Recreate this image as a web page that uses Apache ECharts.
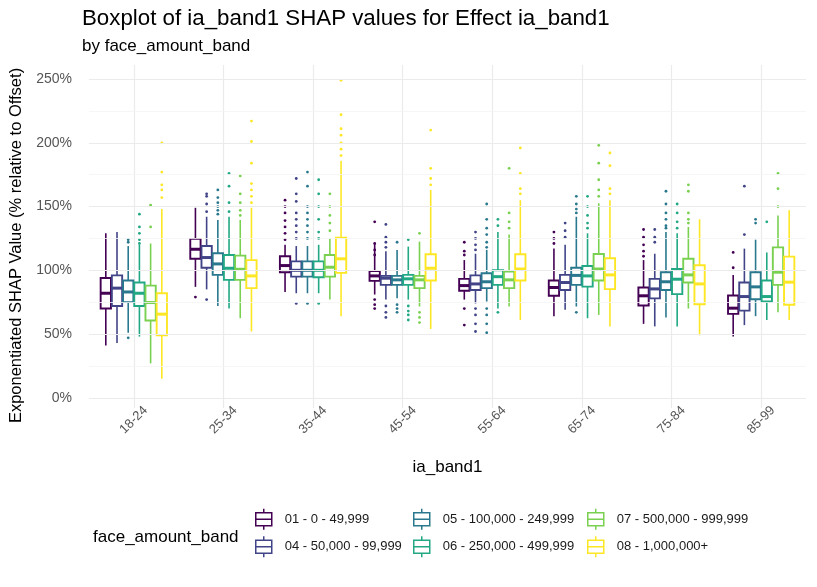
<!DOCTYPE html>
<html>
<head>
<meta charset="utf-8">
<script src="https://cdn.jsdelivr.net/npm/echarts@6/dist/echarts.min.js"></script>
<style>
html, body { margin: 0; background: #fff; }
#chart { width: 817px; height: 587px; }
</style>
</head>
<body>
<div id="chart"></div>
<script>
// age bands on the x axis
var categories = ['18-24', '25-34', '35-44', '45-54', '55-64', '65-74', '75-84', '85-99'];
var bandNames = ['01 - 0 - 49,999', '04 - 50,000 - 99,999', '05 - 100,000 - 249,999',
  '06 - 250,000 - 499,999', '07 - 500,000 - 999,999', '08 - 1,000,000+'];
var bandColors = ['#440154', '#414487', '#2A788E', '#22A884', '#7AD151', '#FDE725'];

// box stats per age band: [low whisker, q1, median, q3, high whisker]
var box01 = [[41, 70, 82, 94, 129], [87, 109, 116.5, 124.6, 149], [83, 98.5, 103.7, 111, 120], [81, 91.7, 95.6, 99.5, 121],
  [77, 84, 88, 93.3, 108], [64, 80, 86.5, 92, 117], [58, 72.4, 80, 86.5, 108], [48, 65.8, 70.3, 80.2, 96.4]];
var box04 = [[43, 72, 86, 96, 130], [85, 102, 110, 119, 142], [82, 95, 100, 107, 119], [77, 88.6, 93.8, 95.6, 115],
  [74, 84.6, 89.3, 96, 113], [69, 84.6, 90.4, 96.4, 120], [56, 78, 85.4, 93.3, 113], [57, 68.4, 79.4, 90.4, 117]];
var box05 = [[51, 75, 83, 92, 119], [72, 96.4, 105, 113.4, 139.5], [82, 95, 100, 107, 119], [78, 88.6, 92.5, 95.6, 116],
  [75.5, 86, 91, 97.7, 116], [71.6, 88.6, 96, 102, 142], [63, 84.6, 91, 98.5, 130], [64, 77.3, 87, 98.5, 124]];
var box06 = [[48, 72, 82, 90.4, 120], [70, 92.5, 101.6, 112, 142], [82, 94.5, 100, 107, 120], [77, 88.6, 93.3, 96.4, 118.6],
  [70, 88.6, 95, 100, 130], [62.4, 87.2, 95.6, 103.4, 129], [56, 81.3, 93, 101, 129], [61, 75.5, 79.4, 92, 114]];
var box07 = [[27, 60.6, 74.7, 88, 121], [62.4, 92.5, 100.8, 111.5, 139.5], [77, 95, 102.4, 112, 125], [71.6, 86, 92.5, 95.6, 122.5],
  [71.6, 86, 92.5, 99, 128], [65, 92, 101, 112.8, 152.6], [70, 90.4, 96.4, 109, 134], [67, 88.6, 98.5, 118, 143]];
var box08 = [[15, 49, 65.6, 82, 148], [52, 86, 95.6, 108, 149], [64, 98, 109, 125.6, 186], [54, 92, 101.6, 112.6, 163],
  [61, 92, 101, 112.6, 155], [56, 85.2, 96.4, 109.5, 155], [49, 73.4, 89.3, 104, 140], [61, 73, 90.7, 110.7, 147]];

// outliers: [age band index, value]
var out01 = [[1, 79], [2, 155], [2, 150], [2, 145], [2, 139], [2, 134], [2, 129], [2, 124], [3, 138], [3, 121], [3, 116],
  [3, 112], [3, 77], [3, 73], [3, 70], [4, 122], [4, 115], [4, 112], [4, 70], [4, 57], [5, 130], [5, 125], [5, 121],
  [6, 132], [6, 126], [6, 120], [6, 115], [6, 111], [7, 114], [7, 102]];
var out04 = [[1, 160], [1, 158], [1, 152], [1, 146], [1, 77], [2, 172], [2, 160], [2, 154], [2, 145], [2, 140], [2, 135],
  [2, 130], [2, 125], [2, 74], [3, 136], [3, 126], [3, 122], [3, 118], [3, 72], [3, 67], [3, 63], [4, 130], [4, 125],
  [4, 120], [4, 116], [4, 70], [4, 65], [4, 58], [4, 52], [5, 137], [5, 131], [5, 126], [6, 132], [6, 126], [6, 122],
  [7, 166], [7, 128]];
var out05 = [[0, 124], [0, 122], [0, 47], [1, 163], [1, 157], [1, 153], [1, 150], [1, 147], [1, 144], [2, 177], [2, 166],
  [2, 150], [2, 145], [2, 140], [2, 135], [2, 130], [2, 125], [2, 74], [3, 122], [3, 73], [3, 70], [3, 67], [4, 152],
  [4, 140], [4, 133], [4, 128], [4, 122], [4, 118], [4, 70], [4, 65], [4, 58], [4, 51], [5, 158], [5, 152], [5, 148],
  [5, 145], [5, 67], [6, 162], [6, 152], [6, 145], [6, 140], [6, 135], [6, 133], [7, 140], [7, 137]];
var out06 = [[0, 144], [0, 134], [0, 129], [0, 124], [0, 121], [1, 176], [1, 166], [1, 153], [1, 146], [2, 171], [2, 160],
  [2, 150], [2, 140], [2, 130], [2, 125], [2, 74], [3, 124], [3, 72], [3, 68], [3, 65], [3, 61], [4, 140], [4, 135],
  [4, 67], [5, 158], [5, 150], [5, 143], [5, 137], [5, 133], [6, 152], [6, 145], [6, 138], [6, 133], [7, 138]];
var out07 = [[0, 151], [0, 134], [1, 174], [1, 160], [1, 153], [1, 147], [1, 143], [2, 160], [2, 150], [2, 143], [2, 137],
  [2, 131], [3, 129], [3, 67], [3, 63], [3, 59], [4, 180], [4, 145], [4, 138], [4, 133], [5, 198], [5, 184], [5, 171],
  [5, 163], [5, 158], [6, 167], [6, 162], [6, 145], [6, 140], [6, 137], [7, 176], [7, 164], [7, 150]];
var out08 = [[0, 200], [0, 177], [0, 167], [0, 163], [0, 157], [1, 217], [1, 201], [1, 184], [1, 168], [1, 163], [1, 158],
  [1, 153], [2, 249], [2, 222], [2, 211], [2, 206], [2, 200], [2, 195], [2, 190], [3, 210], [3, 180], [3, 172], [3, 167],
  [4, 196], [4, 176], [4, 164], [4, 160], [5, 192], [5, 182], [5, 164], [5, 160]];

var yTicks = [0, 50, 100, 150, 200, 250];
var yMinorTicks = [25, 75, 125, 175, 225];

var boxes = [box01, box04, box05, box06, box07, box08];
var outliers = [out01, out04, out05, out06, out07, out08];

var dodge = 0.75 / 6;   // share of a category for one box
var boxIcon = 'path://M9,0V4M1,4H17V17H1ZM1,10.5H17M9,17V21';

function boxRenderer(k) {
  return function (params, api) {
    var cat = api.value(0);
    var band = api.size([1, 0])[0];
    var dx = (k - 2.5) * band * dodge;
    var half = band * dodge * 0.46;
    var lo = api.coord([cat, api.value(1)]);
    var q1 = api.coord([cat, api.value(2)]);
    var md = api.coord([cat, api.value(3)]);
    var q3 = api.coord([cat, api.value(4)]);
    var hi = api.coord([cat, api.value(5)]);
    var x = md[0] + dx;
    var c = bandColors[k];
    return {
      type: 'group',
      children: [
        { type: 'line', shape: { x1: x, y1: hi[1], x2: x, y2: q3[1] }, style: { stroke: c, lineWidth: 1.6 } },
        { type: 'line', shape: { x1: x, y1: q1[1], x2: x, y2: lo[1] }, style: { stroke: c, lineWidth: 1.6 } },
        { type: 'rect', shape: { x: x - half, y: q3[1], width: half * 2, height: q1[1] - q3[1] },
          style: { stroke: c, fill: '#fff', lineWidth: 1.9 } },
        { type: 'line', shape: { x1: x - half, y1: md[1], x2: x + half, y2: md[1] }, style: { stroke: c, lineWidth: 3 } }
      ]
    };
  };
}

function dotRenderer(k) {
  return function (params, api) {
    var cat = api.value(0);
    var band = api.size([1, 0])[0];
    var p = api.coord([cat, api.value(1)]);
    return {
      type: 'circle',
      shape: { cx: p[0] + (k - 2.5) * band * dodge, cy: p[1], r: 1.4 },
      style: { fill: bandColors[k] }
    };
  };
}

function gridLine(v, width, color) {
  return { yAxis: v, lineStyle: { color: color, width: width, type: 'solid' } };
}

// horizontal grid lines, drawn only at the ticks (no lines at the panel edges)
var series = [{
  type: 'line',
  data: [],
  silent: true,
  z: 0,
  markLine: {
    silent: true,
    symbol: 'none',
    label: { show: false },
    animation: false,
    data: yTicks.map(function (v) { return gridLine(v, 1.2, '#ebebeb'); })
      .concat(yMinorTicks.map(function (v) { return gridLine(v, 0.8, '#f4f4f4'); }))
  }
}];

bandNames.forEach(function (name, k) {
  series.push({
    name: name,
    type: 'custom',
    renderItem: boxRenderer(k),
    itemStyle: { color: bandColors[k] },
    encode: { x: 0, y: [1, 2, 3, 4, 5] },
    data: boxes[k].map(function (b, i) { return [i].concat(b); }),
    z: 3
  });
  series.push({
    name: name,
    type: 'custom',
    renderItem: dotRenderer(k),
    itemStyle: { color: bandColors[k] },
    encode: { x: 0, y: 1 },
    data: outliers[k],
    z: 2
  });
});

function legendCol(names, left) {
  return {
    orient: 'vertical',
    left: left,
    top: 508,
    padding: 0,
    itemWidth: 18,
    itemHeight: 21,
    itemGap: 5,
    selectedMode: false,
    textStyle: { fontSize: 13, color: '#1a1a1a', padding: [0, 0, 0, 7] },
    data: names.map(function (n) {
      var k = bandNames.indexOf(n);
      return { name: n, icon: boxIcon, itemStyle: { color: '#fff', borderColor: bandColors[k], borderWidth: 1.5 } };
    })
  };
}

var chart = echarts.init(document.getElementById('chart'));
chart.setOption({
  animation: false,
  backgroundColor: '#fff',
  textStyle: { fontFamily: 'Liberation Sans' },
  title: [{
    text: 'Boxplot of ia_band1 SHAP values for Effect ia_band1',
    subtext: 'by face_amount_band',
    left: 82,
    top: 8,
    padding: 0,
    itemGap: 8,
    textStyle: { fontSize: 22.3, fontWeight: 'normal', color: '#000' },
    subtextStyle: { fontSize: 17, color: '#000' }
  }, {
    text: 'face_amount_band',
    left: 93,
    top: 529,
    padding: 0,
    textStyle: { fontSize: 17, fontWeight: 'normal', color: '#000' }
  }],
  legend: [
    legendCol([bandNames[0], bandNames[1]], 255),
    legendCol([bandNames[2], bandNames[3]], 413),
    legendCol([bandNames[4], bandNames[5]], 587)
  ],
  grid: { left: 89, right: 11, top: 65, bottom: 179 },
  xAxis: {
    type: 'category',
    data: categories,
    name: 'ia_band1',
    nameLocation: 'middle',
    nameGap: 51,
    nameTextStyle: { fontSize: 17, color: '#000' },
    axisLine: { show: false },
    axisTick: { show: false },
    axisLabel: { rotate: 45, align: 'center', verticalAlign: 'middle', margin: 12, fontSize: 13, color: '#555' },
    splitLine: { show: true, alignWithLabel: true, lineStyle: { color: '#ebebeb', width: 1.2 } }
  },
  yAxis: {
    type: 'value',
    min: -8,
    max: 261,
    name: 'Exponentiated SHAP Value (% relative to Offset)',
    nameLocation: 'middle',
    nameGap: 56,
    nameTextStyle: { fontSize: 16.5, color: '#000', padding: [0, 18, 0, 0] },
    axisLine: { show: false },
    axisTick: { show: false },
    axisLabel: {
      margin: 17, fontSize: 14, color: '#555',
      showMinLabel: false, showMaxLabel: false,
      formatter: function (v) { return yTicks.indexOf(v) >= 0 ? v + '%' : ''; }
    },
    splitLine: { show: false }
  },
  series: series
});
</script>
</body>
</html>
